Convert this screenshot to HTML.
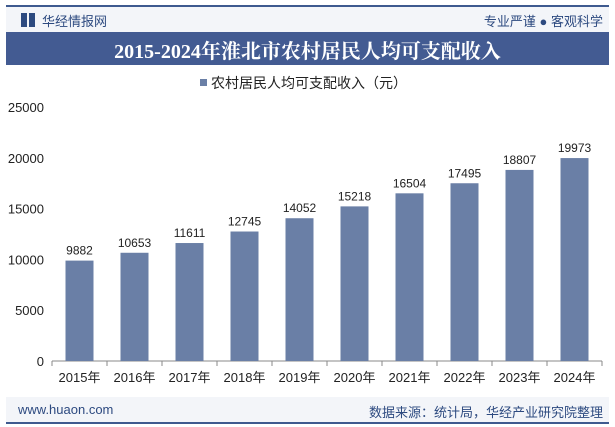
<!DOCTYPE html>
<html><head><meta charset="utf-8"><style>
body{margin:0;width:615px;height:427px;background:#fff;font-family:"Liberation Sans","Noto Sans CJK SC",sans-serif;position:relative;overflow:hidden}
.abs{position:absolute}
</style></head><body>
<div class="abs" style="left:6px;top:5px;width:603px;height:2px;background:#3e5a8f"></div>
<div class="abs" style="left:6px;top:7px;width:603px;height:25px;background:#f3f5f9"></div>
<div class="abs" style="left:21px;top:13px;width:6px;height:14px;background:#2d4a80"></div>
<div class="abs" style="left:29px;top:13px;width:6px;height:14px;background:#2d4a80"></div>
<div class="abs" style="left:42px;top:11px;font-size:13px;color:#2d4a80">华经情报网</div>
<div class="abs" style="right:12px;top:11px;font-size:13px;color:#2d4a80">专业严谨 ● 客观科学</div>
<div class="abs" style="left:6px;top:32px;width:603px;height:33px;background:#435b92"></div>
<div class="abs" style="left:6px;top:35px;width:603px;text-align:center;font-family:'Liberation Serif','Noto Serif CJK SC',serif;font-weight:bold;font-size:20px;color:#fff">2015-2024年淮北市农村居民人均可支配收入</div>
<div class="abs" style="left:200px;top:73px;font-size:14px;color:#222"><span style="display:inline-block;width:7px;height:7px;background:#6a7fa6;margin-right:4px;vertical-align:2px"></span>农村居民人均可支配收入（元）</div>
<svg class="abs" style="left:0;top:0" width="615" height="427">
<g id="g"></g></svg>
<div class="abs" style="left:6px;top:397px;width:603px;height:25px;background:#f3f5f9"></div>
<div class="abs" style="left:6px;top:422px;width:603px;height:2px;background:#3e5a8f"></div>
<div class="abs" style="left:18px;top:402px;font-size:13px;color:#2d4a80">www.huaon.com</div>
<div class="abs" style="right:12px;top:402px;font-size:13px;color:#2d4a80">数据来源：统计局，华经产业研究院整理</div>
<script>
const categories=["2015年","2016年","2017年","2018年","2019年","2020年","2021年","2022年","2023年","2024年"];
const values=[9882,10653,11611,12745,14052,15218,16504,17495,18807,19973];
const yTicks=[0,5000,10000,15000,20000,25000];
const X0=52,X1=602,Y0=361,Y1=107,YMAX=25000;
const y=v=>Y0-(v/YMAX)*(Y0-Y1);
const bw=(X1-X0)/categories.length;
const x=i=>X0+bw*(i+0.5);
const g=document.getElementById('g');const NS='http://www.w3.org/2000/svg';
function mk(t,a,txt){const e=document.createElementNS(NS,t);for(const k in a)e.setAttribute(k,a[k]);if(txt!=null)e.textContent=txt;g.appendChild(e);return e;}
yTicks.forEach(t=>{const e=mk('text',{x:44,y:y(t)+5,'text-anchor':'end','font-size':13,fill:'#222'},t);

});
const ax=mk('line',{x1:X0,x2:X1,y1:Y0,y2:Y0,stroke:'#888'});


for(let i=0;i<=categories.length;i++){const t=mk('line',{x1:X0+bw*i,x2:X0+bw*i,y1:Y0,y2:Y0+5,stroke:'#888'});

}
categories.forEach((c,i)=>{
const r=mk('rect',{x:x(i)-14,y:y(values[i]),width:28,height:Y0-y(values[i]),fill:'#6a7fa6'});


const v=mk('text',{x:x(i),y:y(values[i])-6,'text-anchor':'middle','font-size':12,fill:'#222'},values[i]);


const l=mk('text',{x:x(i),y:382,'text-anchor':'middle','font-size':13,fill:'#222'},c);


});
</script>
</body></html>
